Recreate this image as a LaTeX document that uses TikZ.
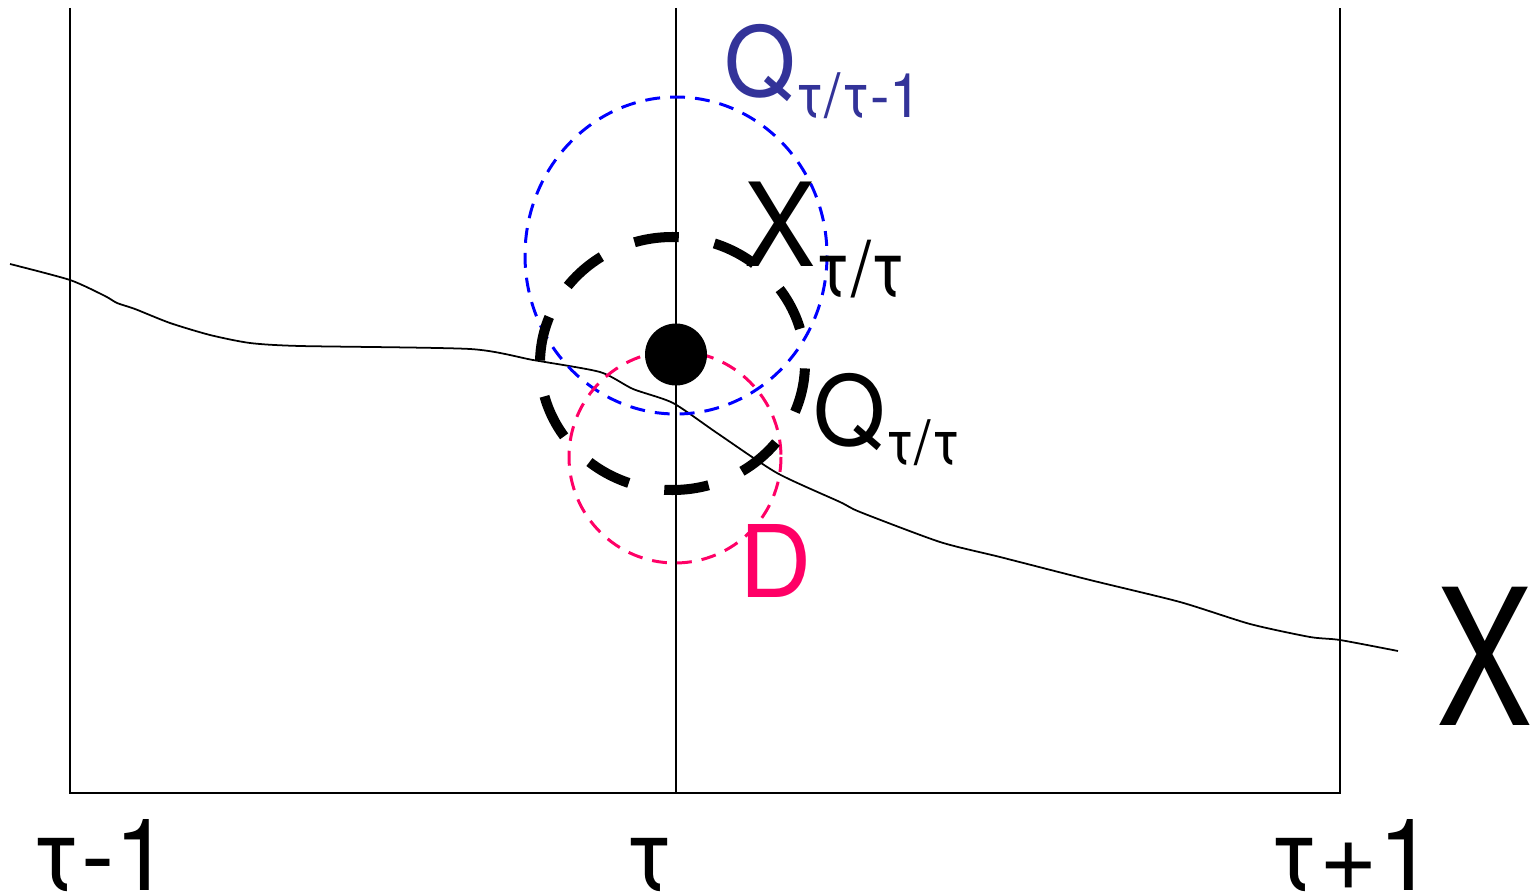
\documentclass[tikz,border=0pt]{standalone}
\usepackage{fontspec}
\setmainfont{TeX Gyre Heros}
\usetikzlibrary{positioning}
\definecolor{qblue}{HTML}{333399}
\definecolor{dblue}{HTML}{0000FF}
\definecolor{dpink}{HTML}{FF0066}
\newcommand{\fs}[1]{\fontsize{#1}{#1}\selectfont}
\newcommand{\narrow}[2]{\scalebox{#1}[1]{#2}}

\begin{document}
\begin{tikzpicture}[x=0.02cm,y=-0.02cm,
    lbl/.style={inner sep=0pt,anchor=base west},
    tick/.style={inner sep=0pt,anchor=base},
    thin dash/.style={line width=1.7pt,dash pattern=on 8.5pt off 5.7pt}]
  \useasboundingbox (0,0) rectangle (1538,895);
  % time axis
  \draw[line width=1pt] (70,8)--(70,793)--(1340,793)--(1340,8);
  \draw[line width=1pt] (676,8)--(676,793);
  % trajectory
  \draw[line width=1pt] plot[smooth,tension=0.4] coordinates {(10,264) (70,280) (105,296) (117,303) (135,309) (170,323)
    (210,335) (250,343) (300,346) (470,349) (533,360) (600,372) (633,389) (673,403) (717,433) (777,473)
    (840,502) (860,512) (940,542) (1000,557) (1090,580) (1180,602) (1250,624) (1310,637) (1340,640) (1398,651)};
  % regions
  \draw[thin dash,dblue] (676,255.5) circle[x radius=151,y radius=158.5];
  \draw[thin dash,dpink] (675,457) circle[radius=106];
  \draw[line width=5.7pt,dash pattern=on 25.5pt off 20.6pt,dash phase=43.3pt]
    (672.5,363.5) circle[x radius=132.5,y radius=126.5];
  \fill (676,354.5) circle[radius=31];
  % labels
  \node[lbl,qblue] (qprior) at (724,97) {\narrow{0.95}{\fs{55pt}Q\raisebox{-11.9pt}{\fs{35pt}τ/τ-1}}};
  \node[lbl] (xpost) at (744,267) {\narrow{0.92}{\fs{66pt}X\raisebox{-17pt}{\fs{44pt}τ/τ}}};
  \node[lbl] (qpost) at (813,445) {\narrow{0.96}{\fs{55pt}Q\raisebox{-11.3pt}{\fs{35pt}τ/τ}}};
  \node[lbl,dpink] (dlab) at (739,597) {\fs{57pt}D};
  \node[lbl] (xaxis) at (1436,725) {\narrow{0.76}{\fs{108pt}X}};
  \node[tick] (tprev) at (101,890) {\fs{57pt}τ-1};
  \node[tick] (tnow) at (649,890) {\fs{57pt}τ};
  \node[tick] (tnext) at (1352,890) {\fs{57pt}τ+1};
\end{tikzpicture}
\end{document}
